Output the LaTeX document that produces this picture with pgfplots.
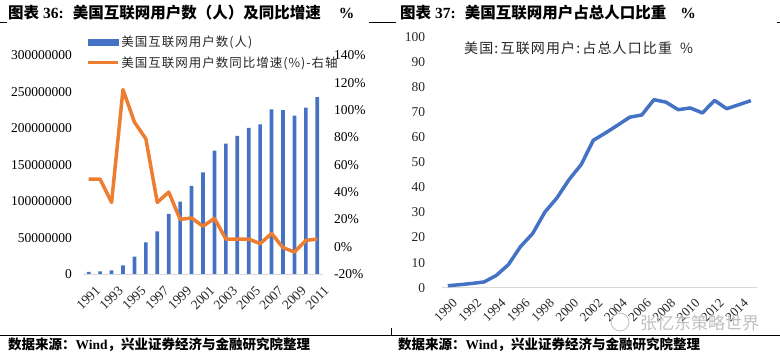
\documentclass[border=0pt]{standalone}
\usepackage{pgfplots}
\pgfplotsset{compat=1.18}
\usepackage{fontspec}
\setmainfont{Liberation Serif}
\newfontfamily\cjk{Noto Sans CJK SC}
\newfontfamily\cjkl[LetterSpace=8]{Noto Sans CJK SC}
\definecolor{barblue}{HTML}{4472C4}
\definecolor{lineorange}{HTML}{ED7D31}
\definecolor{axgray}{HTML}{D9D9D9}
\definecolor{txt}{HTML}{262626}
\newcommand{\fs}[1]{\fontsize{#1}{#1}\selectfont}

% US internet users (millions) and YoY growth (%)
\pgfplotstableread{
year users growth
1991 2.8 49.4
1992 3.7 49.4
1993 5.0 32.4
1994 12.0 115.0
1995 24.0 91.2
1996 43.5 79.0
1997 58.5 32.4
1998 82.5 40.0
1999 99.5 20.0
2000 121.0 21.0
2001 139.5 15.0
2002 169.5 20.7
2003 179.0 5.6
2004 189.5 5.6
2005 200.5 5.6
2006 205.5 2.2
2007 226.0 9.7
2008 225.0 -0.7
2009 217.5 -3.9
2010 228.5 4.6
2011 243.0 5.6
}\usersdata

% Share of population (%)
\pgfplotstableread{
year share
1990 0.8
1991 1.2
1992 1.7
1993 2.3
1994 4.9
1995 9.2
1996 16.4
1997 21.6
1998 30.1
1999 35.8
2000 43.1
2001 49.1
2002 58.8
2003 61.7
2004 64.8
2005 68.0
2006 68.9
2007 75.0
2008 74.0
2009 71.0
2010 71.7
2011 69.7
2012 74.7
2013 71.4
2014 73.0
2015 74.6
}\sharedata

\begin{document}
\begin{tikzpicture}
\path[use as bounding box] (0,0) rectangle (780pt,353pt);

% ---------- left chart: bars ----------
\begin{axis}[
  at={(83pt,79pt)}, anchor=south west,
  scale only axis, width=240pt, height=218.5pt,
  xmin=1990.5, xmax=2011.5,
  ymin=0, ymax=300,
  axis x line*=bottom, axis y line*=left,
  x axis line style={axgray, line width=0.8pt},
  y axis line style={draw=none},
  major tick length=0pt,
  ytick={0,50,100,150,200,250,300},
  yticklabels={0,50000000,100000000,150000000,200000000,250000000,300000000},
  yticklabel style={font=\fs{13.5}, text=black, inner sep=0pt, xshift=-11pt},
  xtick={1991,1993,1995,1997,1999,2001,2003,2005,2007,2009,2011},
  xticklabels={1991,1993,1995,1997,1999,2001,2003,2005,2007,2009,2011},
  xticklabel style={font=\fs{13.5}, text=txt, inner sep=0pt, xshift=6pt, yshift=-11pt, rotate=45, anchor=north east},
  ybar, bar width=3.7pt,
]
\addplot[fill=barblue, draw=none] table[x=year, y=users] {\usersdata};
\end{axis}

% ---------- left chart: growth line (right axis) ----------
\begin{axis}[
  at={(83pt,79pt)}, anchor=south west,
  scale only axis, width=240pt, height=218.5pt,
  xmin=1990.5, xmax=2011.5,
  ymin=-20, ymax=140,
  axis y line*=right, axis x line=none,
  y axis line style={draw=none},
  major tick length=0pt,
  ytick={-20,0,20,40,60,80,100,120,140},
  yticklabels={-20\%,0\%,20\%,40\%,60\%,80\%,100\%,120\%,140\%},
  yticklabel style={font=\fs{13.5}, text=black, inner sep=0pt, anchor=west, xshift=11pt},
  legend style={at={(0.012,1.097)}, anchor=north west, draw=none, fill=none,
    inner sep=0pt, font=\cjkl\fs{12.5}, row sep=4.5pt,
    nodes={inner sep=1.8pt, text=txt}},
  legend cell align=left,
]
\addlegendimage{legend image code/.code={\fill[barblue] (0pt,-3.3pt) rectangle (30pt,3.3pt);}}
\addlegendentry{美国互联网用户数(人)}
\addplot[lineorange, line width=3.5pt, line join=round, no markers,
  legend image code/.code={\draw[lineorange, line width=3.5pt] (0pt,0pt) -- (30pt,0pt);}]
  table[x=year, y=growth] {\usersdata};
\addlegendentry{美国互联网用户数同比增速(\%)-右轴}
\end{axis}

% ---------- right chart ----------
\begin{axis}[
  at={(441.7pt,65.3pt)}, anchor=south west,
  scale only axis, width=315.3pt, height=250.7pt,
  xmin=1989.5, xmax=2015.5,
  ymin=0, ymax=100,
  axis x line*=bottom, axis y line*=left,
  x axis line style={axgray, line width=0.8pt},
  y axis line style={draw=none},
  major tick length=0pt,
  ytick={0,10,20,30,40,50,60,70,80,90,100},
  yticklabels={0,10,20,30,40,50,60,70,80,90,100},
  yticklabel style={font=\fs{13.5}, text=txt, inner sep=0pt, xshift=-16.5pt},
  xtick={1990,1992,1994,1996,1998,2000,2002,2004,2006,2008,2010,2012,2014},
  xticklabels={1990,1992,1994,1996,1998,2000,2002,2004,2006,2008,2010,2012,2014},
  xticklabel style={font=\fs{13}, text=txt, inner sep=0pt, xshift=4pt, yshift=-10pt, rotate=45, anchor=north east},
]
\addplot[barblue, line width=3.5pt, line join=round, no markers] table[x=year, y=share] {\sharedata};
\end{axis}

% in-chart title of right chart
\node[anchor=west, inner sep=0pt, text=txt, font=\cjkl\fs{14}] at (464pt,305pt) {美国:\,互联网用户:\,占总人口比重\hspace{8pt}\%};

% ---------- titles, rules, sources ----------
\draw[black, line width=1pt] (0pt,330pt) -- (7pt,330pt);
\draw[black, line width=1pt] (369pt,330pt) -- (396pt,330pt);
\draw[black, line width=1pt] (777pt,330pt) -- (780pt,330pt);

\node[anchor=west, inner sep=0pt, font=\bfseries\fs{15.5}] at (8pt,340pt)
  {{\cjk 图表}\hspace{4pt}36:\hspace{9pt}{\cjk 美国互联网用户数（人）及同比增速}\hspace{18pt}\%};
\node[anchor=west, inner sep=0pt, font=\bfseries\fs{15.5}] at (400pt,340pt)
  {{\cjk 图表}\hspace{4pt}37:\hspace{9pt}{\cjk 美国互联网用户占总人口比重}\hspace{14pt}\%};

\draw[black, line width=0.9pt] (0pt,18pt) -- (780pt,18pt);
\draw[black, line width=0.6pt] (391pt,18pt) -- (391pt,25pt);

\node[anchor=west, inner sep=0pt, font=\bfseries\fs{13.5}] at (8pt,8.5pt)
  {{\cjk 数据来源：}Wind{\cjk ，兴业证券经济与金融研究院整理}};
\node[anchor=west, inner sep=0pt, font=\bfseries\fs{13.5}] at (398pt,8.5pt)
  {{\cjk 数据来源：}Wind{\cjk ，兴业证券经济与金融研究院整理}};

% watermark
\node[anchor=west, inner sep=0pt, text=black!25, font=\cjk\fs{17}] at (640pt,30pt) {张忆东策略世界};
\draw[black!25, line width=0.8pt] (620pt,31pt) circle (9pt);
\end{tikzpicture}
\end{document}
